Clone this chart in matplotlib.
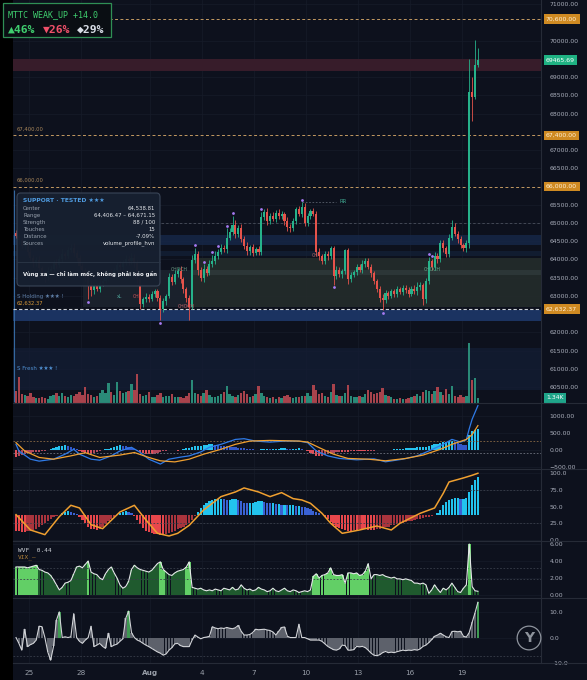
import numpy as np
import matplotlib.pyplot as plt
from matplotlib.patches import Rectangle, FancyBboxPatch
from matplotlib.transforms import blended_transform_factory

W, H = 587, 680
BG = '#0d111d'
GRID = '#171c29'
TXT = '#a9aebb'
GREEN = '#26b28a'
RED = '#e5534b'
ORANGE = '#f0a33a'

# ---- 4h candles, Jul 24 04:00 -> Aug 19 20:00 ----
first_open = 64720
closes = [
    64650, 64520, 64380, 64450, 64210, 64050, 63920, 63980, 63760, 63600,
    63520, 63680, 63750, 63900, 63850, 64020, 64150, 64100, 64260, 64300,
    64180, 64050, 63820, 63700, 63520, 63300, 63150, 63280, 63200, 63350,
    63420, 63500, 63620, 63580, 63700, 63850, 63780, 63900, 64000, 63950,
    64050, 63900, 63450, 62780, 62900, 62980, 62920, 63050, 63120, 62950,
    62650, 62850, 63000, 63520, 63380, 63600, 63680, 63450, 63180, 62950,
    62700, 63990, 64150, 63700, 63480, 63750, 63620, 63880, 63950, 64100,
    64200, 64320, 64280, 64600, 64750, 64950, 64700, 64850, 64560, 64380,
    64220, 64330, 64180, 64280, 64200, 65150, 65300, 65050, 65200, 65120,
    65280, 65180, 65250, 65050, 64900, 64850, 65050, 65380, 65250, 65450,
    65000, 65180, 65320, 65250, 64200, 64100, 63950, 64150, 64080, 64300,
    63550, 63720, 63600, 63680, 64250, 63450, 63580, 63650, 63780, 63720,
    63880, 63950, 63800, 63620, 63400, 63200, 62950, 62880, 63080, 63000,
    63120, 63050, 63180, 63100, 63220, 63150, 63060, 63200, 63120, 63230,
    63300, 62900, 63400, 63950, 63800, 64100, 64000, 64450, 64300, 64150,
    64600, 64900, 64700, 64550, 64400, 64300, 64450, 68600, 68450, 69330,
    69465.69,
]
wick_up = [
    80, 60, 90, 120, 70, 100, 60, 80, 110, 70,
    90, 120, 60, 80, 100, 70, 130, 60, 90, 110,
    150, 80, 60, 90, 70, 100, 120, 60, 80, 90,
    70, 100, 80, 120, 60, 90, 110, 70, 130, 80,
    120, 90, 70, 80, 60, 100, 70, 90, 60, 80,
    70, 90, 60, 120, 80, 100, 90, 130, 70, 60,
    80, 120, 170, 70, 90, 110, 80, 100, 170, 120,
    90, 110, 80, 250, 100, 250, 120, 90, 110, 80,
    100, 70, 90, 60, 80, 160, 90, 110, 80, 100,
    70, 90, 80, 60, 100, 80, 90, 60, 80, 120,
    100, 80, 60, 90, 70, 110, 60, 80, 90, 80,
    60, 90, 80, 70, 40, 60, 80, 70, 90, 100,
    110, 80, 90, 60, 70, 60, 80, 90, 70, 60,
    80, 70, 90, 60, 80, 70, 90, 60, 100, 150,
    80, 60, 90, 120, 70, 100, 80, 90, 80, 70,
    100, 180, 90, 70, 80, 60, 70, 900, 400, 690,
    330,
]
wick_dn = [
    70, 90, 60, 100, 80, 70, 120, 90, 60, 100,
    150, 80, 70, 60, 90, 70, 80, 100, 60, 70,
    80, 90, 70, 100, 120, 400, 150, 90, 80, 100,
    90, 70, 100, 80, 60, 90, 70, 80, 60, 100,
    80, 120, 100, 150, 90, 70, 80, 60, 90, 100,
    320, 80, 100, 70, 90, 60, 80, 100, 90, 120,
    370, 60, 100, 120, 80, 90, 70, 60, 80, 70,
    90, 60, 80, 100, 70, 80, 110, 90, 80, 100,
    90, 110, 80, 70, 80, 90, 60, 100, 80, 70,
    90, 60, 80, 100, 110, 90, 70, 80, 60, 80,
    70, 90, 80, 60, 100, 120, 80, 90, 100, 70,
    250, 90, 80, 100, 70, 120, 80, 70, 90, 60,
    80, 90, 70, 100, 80, 90, 120, 270, 80, 100,
    70, 90, 80, 60, 90, 70, 80, 60, 70, 90,
    80, 150, 90, 70, 100, 80, 90, 70, 100, 80,
    90, 80, 70, 100, 80, 70, 90, 150, 650, 60,
    50,
]
volume_k = [
    3.2, 7.0, 2.5, 2.2, 2.0, 2.7, 1.6, 1.3, 1.4, 1.6,
    1.4, 1.2, 1.9, 2.2, 2.6, 2.0, 2.7, 1.8, 1.6, 2.2,
    1.9, 2.4, 3.0, 2.1, 4.3, 2.5, 2.2, 1.6, 1.8, 2.7,
    3.5, 2.8, 5.4, 3.0, 2.2, 5.6, 3.2, 2.6, 2.9, 3.2,
    5.2, 3.5, 7.8, 2.5, 1.8, 2.2, 2.9, 1.7, 1.5, 2.1,
    2.7, 1.6, 2.0, 1.8, 2.4, 1.6, 1.7, 1.5, 1.4, 2.0,
    2.6, 6.2, 2.8, 2.3, 1.9, 2.6, 3.4, 2.2, 1.7, 1.5,
    2.0, 2.3, 3.0, 4.6, 2.4, 2.0, 1.7, 2.1, 2.8, 3.2,
    2.3, 1.6, 1.9, 2.5, 4.6, 2.8, 2.0, 1.6, 1.3, 1.5,
    1.2, 1.6, 1.4, 1.8, 2.2, 1.7, 1.4, 1.6, 1.5, 1.9,
    2.0, 2.6, 1.8, 4.8, 3.6, 2.3, 2.6, 2.0, 1.7, 3.0,
    5.1, 2.2, 1.8, 1.9, 2.8, 4.8, 2.0, 1.7, 1.6, 1.9,
    1.7, 2.4, 3.5, 2.9, 2.3, 2.6, 3.0, 4.0, 2.2, 1.8,
    1.6, 1.2, 1.0, 1.4, 1.2, 1.1, 1.3, 1.5, 1.9, 2.5,
    2.0, 3.0, 3.4, 3.2, 2.3, 3.1, 4.3, 2.9, 2.1, 3.7,
    2.3, 4.5, 1.9, 1.6, 2.2, 1.7, 2.0, 16.0, 6.2, 6.6,
    1.34,
]

# ---- MACD ----
macd_hist = [
    -200, -180, -150, -120, -100, -80, -70, -60, -50, -40,
    -30, -10, 20, 50, 80, 110, 130, 135, 120, 100,
    60, 20, -20, -60, -90, -110, -120, -100, -70, -40,
    10, 30, 40, 60, 90, 120, 135, 130, 110, 80,
    50, 20, -20, -60, -90, -110, -120, -124, -110, -90,
    -70, -40, -20, -10, 10, -10, -20, 10, 30, 50,
    70, 90, 110, 120, 130, 140, 150, 160, 165, 150,
    140, 130, 120, 110, 100, 90, 80, 70, 60, 50,
    40, 30, 20, 10, 10, 20, 30, 30, 20, 20,
    30, 40, 50, 50, 40, 30, 30, 40, 50, 40,
    10, -40, -90, -130, -170, -180, -170, -150, -120, -100,
    -80, -70, -60, -60, -50, -50, -40, -40, -30, -30,
    -30, -40, -40, -30, -20, -10, -10, -10, 0, 10,
    10, 20, 20, 30, 40, 50, 50, 60, 70, 80,
    80, 90, 100, 120, 140, 160, 180, 200, 220, 240,
    250, 260, 240, 200, 170, 150, 140, 450, 550, 590,
    600,
]
macd_idx = [0, 1, 5, 8, 13, 17, 20, 22, 26, 29, 33, 36, 40, 43, 46, 50, 53, 57,
            60, 64, 67, 71, 76, 79, 83, 88, 93, 98, 101, 104, 108, 112, 118, 124,
            128, 134, 139, 143, 148, 151, 154, 156, 157, 158, 159, 160]
macd_line = [165, -29, -270, -327, -270, -124, 20, -124, -270, -300, -173, -29, 78,
             -70, -270, -413, -270, -210, -173, -58, 78, 165, 309, 330, 260, 230,
             260, 260, 214, -29, -173, -249, -289, -260, -347, -270, -173, -29,
             165, 309, 231, 300, 620, 900, 1100, 1300]
signal_idx = [0, 3, 8, 13, 19, 24, 29, 36, 41, 46, 50, 55, 60, 65, 71, 76, 81, 88,
              98, 101, 105, 110, 115, 122, 128, 135, 141, 147, 151, 156, 158, 160]
signal_line = [214, -29, -220, -270, -173, -80, -220, -150, -75, -220, -318, -350,
               -270, -124, 20, 165, 260, 280, 260, 231, 69, -124, -249, -270, -318,
               -249, -150, 20, 165, 309, 450, 714]

# ---- momentum oscillator (0-100) ----
mom_hist = [
    14, 13, 12, 12, 13, 14, 15, 17, 19, 22,
    25, 28, 31, 34, 36, 38, 40, 42, 43, 42,
    41, 39, 35, 30, 25, 20, 17, 16, 15, 17,
    20, 24, 28, 32, 35, 38, 40, 42, 43, 42,
    40, 36, 30, 24, 18, 14, 12, 10, 9, 9,
    8, 8, 9, 10, 12, 14, 16, 18, 20, 22,
    25, 30, 36, 42, 48, 52, 55, 58, 60, 61,
    62, 62, 61, 60, 60, 61, 62, 60, 58, 56,
    55, 55, 56, 57, 58, 58, 57, 56, 55, 55,
    54, 54, 53, 53, 52, 52, 52, 51, 51, 50,
    49, 48, 46, 44, 42, 40, 38, 35, 31, 27,
    23, 20, 18, 16, 15, 14, 14, 15, 15, 16,
    16, 16, 15, 15, 15, 16, 17, 18, 19, 20,
    22, 23, 24, 25, 26, 27, 28, 29, 30, 31,
    32, 33, 34, 35, 36, 37, 40, 45, 52, 57,
    60, 62, 63, 63, 62, 62, 63, 72, 82, 90,
    95,
]
mom_base = 37.5
mom_idx = [0, 5, 10, 15, 19, 22, 26, 30, 36, 41, 45, 49, 53, 56, 60, 65, 71, 76, 79,
           84, 88, 92, 96, 99, 102, 106, 109, 113, 119, 125, 130, 133, 140, 145,
           148, 150, 155, 158, 160]
mom_line = [38, 15, 8, 35, 52, 48, 23, 17, 42, 52, 30, 10, 6, 10, 22, 45, 65, 72, 78,
            72, 65, 71, 62, 60, 55, 40, 25, 10, 15, 21, 15, 25, 40, 48, 70, 87, 93,
            97, 100]

# ---- Williams VIX Fix ----
wvf = [
    3.3, 3.3, 3.3, 3.3, 3.2, 3.3, 3.4, 3.5, 3.0, 2.9,
    2.7, 2.6, 2.3, 1.8, 1.2, 0.6, 0.9, 1.4, 1.5, 1.7,
    2.5, 3.3, 3.4, 3.2, 3.6, 4.0, 2.7, 2.5, 2.4, 2.0,
    1.8, 2.5, 3.0, 3.3, 2.6, 2.0, 1.2, 0.8, 1.0, 1.6,
    3.0, 3.5, 3.2, 3.0, 2.9, 2.8, 2.7, 2.9, 3.3, 3.7,
    3.9, 3.0, 2.7, 2.4, 2.3, 2.6, 2.8, 2.9, 3.0, 3.3,
    3.9, 0.9, 0.8, 0.7, 0.8, 0.6, 0.5, 0.6, 0.5, 0.7,
    0.6, 0.5, 0.8, 0.7, 0.6, 0.9, 0.6, 0.7, 1.2, 0.8,
    0.6, 0.7, 0.5, 0.6, 0.9, 0.7, 0.6, 0.4, 0.5, 0.8,
    0.5, 0.4, 0.6, 0.8, 0.5, 0.4, 0.6, 0.5, 0.3, 0.4,
    0.5, 0.4, 0.6, 2.2, 2.5, 2.0, 2.3, 2.4, 2.6, 3.2,
    2.4, 2.3, 2.3, 2.4, 1.4, 2.6, 2.6, 2.5, 2.6, 2.3,
    2.4, 2.8, 3.7, 1.9, 2.4, 2.4, 2.3, 2.4, 2.2, 2.1,
    2.0, 2.1, 1.9, 1.9, 1.8, 1.9, 1.8, 1.7, 1.4, 1.4,
    1.3, 1.4, 1.2, 0.2, 0.6, 1.2, 0.7, 0.3, 0.8, 0.6,
    0.9, 1.4, 0.9, 0.4, 0.3, 0.8, 1.2, 6.0, 1.0, 0.5,
    0.44,
]
wvf_hot = [(0, 7), (25, 25), (50, 51), (59, 60), (103, 122), (157, 157)]

# ---- bottom oscillator ----
osc = [
    0, -2.3, -5, 3.3, -3.6, -2.8, -2.3, -1, 4.5, 4.3,
    0, -5.7, -9, -3.5, 6.9, 10.2, 0, 0.3, 0, 0.3,
    9.5, 0, -1.5, -2.3, -1, 0, 4.5, -3.6, -3, -2.3,
    -3.5, -4.3, 1.7, -3.6, -3, -2.6, -1.5, -0.5, 7.6, 10.5,
    2, 0, -1, -1.5, -2.3, -3, -3.6, -4.3, -5, -5.7,
    -6.2, -7, -6.5, -5, -4, -2.5, -2.3, -3.2, -3.6, -3.6,
    -3.6, -1, 1, 0.2, -0.5, 0, 0.2, 0.5, 4.3, 3.8,
    3.5, 3.8, 3.6, 4, 3.7, 3.5, 3.9, 4.8, 2.5, 1,
    1, 1.2, 2, 3.3, 3.1, 3.2, 3.3, 3, 2.8, 2.2,
    1, 2.5, 4, 4.2, 0.5, 0, 0, 0, 5.3, 0,
    0, -0.5, -1, -1, -1, -1, -1.5, -2.5, -3.5, -4.2,
    -4.8, -5, -4.5, -3, -3.2, -5, -5, -4.8, -3.5, -3.7,
    -3.5, -4, -5, -6.2, -7, -7.2, -6.8, -6, -5.5, -6,
    -5.8, -6, -5.6, -5.3, -5, -5.2, -5, -5.1, -4.8, -5,
    -4.5, -3.5, -3, -2, -0.8, 0.5, 1, 1.7, 1, 0.3,
    0, 2.4, 2.5, 2.3, 2.5, 0.5, 0.2, 2, 6, 9.8,
    14,
]

swing_high_idx = [62, 65, 68, 70, 73, 75, 85, 99, 143, 144]
swing_low_idx = [25, 50, 110, 127]

day_ticks = [1, 4, 8, 11, 14, 17, 20, 23, 26]
day_labels = ['25', '28', 'Aug', '4', '7', '10', '13', '16', '19']

for arr in (closes, wick_up, wick_dn, volume_k, macd_hist, mom_hist, wvf, osc):
    assert len(arr) == len(closes), len(arr)

N = len(closes)
t = 0.25 + np.arange(N) / 6
c = np.array(closes, float)
o = np.array([first_open] + closes[:-1], float)
hi = np.maximum(o, c) + np.array(wick_up)
lo = np.minimum(o, c) - np.array(wick_dn)
up = c >= o


def fx(x):
    return x / W


def fy(y):
    return 1 - y / H


fig = plt.figure(figsize=(W / 100, H / 100), dpi=100, facecolor=BG)


def panel(top, bottom):
    a = fig.add_axes([fx(13), fy(bottom), 528 / W, (bottom - top) / H])
    a.set_facecolor(BG)
    for s in a.spines.values():
        s.set_visible(False)
    a.set_xlim(0.076, 30.56)
    a.yaxis.tick_right()
    a.tick_params(axis='y', labelsize=4.4, labelcolor=TXT, length=0, pad=6)
    a.tick_params(axis='x', length=0, labelbottom=False)
    a.set_xticks(day_ticks)
    a.grid(True, color=GRID, lw=0.5)
    a.set_axisbelow(True)
    return a


def tag(a, y, s, fc, tc):
    a.text(1 + 5 / 528, y, s, transform=blended_transform_factory(a.transAxes, a.transData),
           ha='left', va='center', fontsize=4.4, color=tc, clip_on=False, zorder=10,
           bbox=dict(boxstyle='square,pad=0.4', fc=fc, ec='none'))


def hist_colors(vals, base, pos_up, pos_dn, neg_dn, neg_up):
    cols, prev = [], vals[0]
    for v in vals:
        if v >= base:
            cols.append(pos_up if v >= prev else pos_dn)
        else:
            cols.append(neg_dn if v <= prev else neg_up)
        prev = v
    return cols


# ================= main price panel =================
ax = panel(0, 403)
ax.set_ylim(60060, 71117)

# zones
ax.axhspan(69170, 69500, color='#3a1d2b', alpha=0.95, lw=0)
ax.axhspan(64400, 64670, color='#16284a', alpha=0.8, lw=0)
ax.axhspan(64080, 64220, color='#142239', alpha=0.7, lw=0)
ax.axhspan(62300, 62600, color='#1c3665', alpha=0.95, lw=0)
ax.axhspan(60420, 61570, color='#131d33', alpha=0.8, lw=0)
ax.add_patch(Rectangle((t[61], 62700), 30.56 - t[61], 1350, fc='#242c2b', ec='none', alpha=0.9))
ax.add_patch(Rectangle((t[61], 63560), 30.56 - t[61], 140, fc='#2e3839', ec='none', alpha=0.9))
ax.add_patch(Rectangle((4.1, 62700), t[61] - 4.1, 1000, fc='#1c232e', ec='none', alpha=0.9))
ax.vlines(0.16, 60100, 65900, color='#34689e', lw=0.8)

# levels
for lvl in (70600, 67400, 66000):
    ax.axhline(lvl, color='#c39a62', lw=0.7, ls=(0, (3, 2.5)))
ax.axhline(62632.37, color='#cfd3da', lw=0.8, ls=(0, (3, 2)))
ax.hlines(65010, 8.6, 30.56, color='#4a505c', lw=0.6, ls=(0, (3, 2.5)))
ax.hlines(65570, t[99], t[111], color='#5a606c', lw=0.6, ls=(0, (2, 2)))
ax.text(t[112], 65600, 'RR', fontsize=3.8, color='#3fa58f', va='center')

# candles
cols = np.where(up, GREEN, RED)
ax.vlines(t, lo, hi, colors=cols, lw=0.6, zorder=3)
ax.bar(t, np.maximum(np.abs(c - o), 12), bottom=np.minimum(o, c), width=0.12,
       color=cols, zorder=4, lw=0)
ax.scatter(t[swing_high_idx], hi[swing_high_idx] + 70, s=4, color='#a77bf3', zorder=5, lw=0)
ax.scatter(t[swing_low_idx], lo[swing_low_idx] - 70, s=4, color='#a77bf3', zorder=5, lw=0)

# small structure labels
for x, y, s, col in [(9.2, 63730, 'CHOCH', '#6f9a86'), (23.8, 63730, 'CHOCH', '#5fb08f'),
                     (7.0, 62980, 'CH', '#d0555a'), (9.6, 62720, 'CHOCH', '#c4656a'),
                     (17.3, 64120, 'CH', '#b86a6a'), (6.1, 62990, 'xL', '#4fa59a')]:
    ax.text(x, y, s, fontsize=3.3, color=col, va='center', zorder=6)

# left level labels
ax.text(0.31, 67560, '67,400.00', fontsize=3.8, color='#a8865a', va='center')
ax.text(0.31, 66160, '66,000.00', fontsize=3.8, color='#a8865a', va='center')
ax.text(0.31, 63000, 'S Holding \u2605\u2605\u2605 !', fontsize=4, color='#5f7fa8', va='center', zorder=6)
ax.text(0.31, 62790, '62,632.37', fontsize=3.8, color='#d89a3a', va='center', zorder=6)
ax.text(0.31, 61000, 'S Fresh \u2605\u2605\u2605 !', fontsize=4, color='#4f8fd0', va='center')

# volume overlay
vax = ax.twinx()
vax.set_ylim(0, 108)
vax.axis('off')
vax.bar(t, volume_k, width=0.135, color=np.where(up, '#2a8a78', '#a8434c'), lw=0)

# twinx moves the price labels to the left: put them back on the right
ax.yaxis.tick_right()
price_ticks = [60500, 61000, 61500, 62000, 63000, 63500, 64000, 64500, 65000, 65500,
               66500, 67000, 68000, 68500, 69000, 70000, 71000]
ax.set_yticks(price_ticks, [f'{v:.2f}' for v in price_ticks])
ax.tick_params(axis='y', labelsize=4.4, labelcolor=TXT, length=0, pad=6,
               left=False, labelleft=False, right=True, labelright=True)

tag(ax, 70600, '70,600.00', '#cf8a22', '#fff1d8')
tag(ax, 69465.69, '69465.69', '#1fb283', '#ffffff')
tag(ax, 67400, '67,400.00', '#cf8a22', '#fff1d8')
tag(ax, 66000, '66,000.00', '#cf8a22', '#fff1d8')
tag(ax, 62632.37, '62,632.37', '#cf8a22', '#fff1d8')
tag(vax, volume_k[-1], '1.34K', '#1fa58a', '#ffffff')

# ================= MACD =================
ax2 = panel(403, 469)
ax2.set_ylim(-558, 1376)
ax2.set_yticks([1000, 500, 0, -500], ['1000.00', '500.00', '0.00', '\u2212500.00'])
ax2.axhline(260, color='#8a6a45', lw=0.6, ls=(0, (2, 2)))
ax2.axhline(-100, color='#6f7480', lw=0.6, ls=(0, (2, 2)))
ax2.bar(t, macd_hist, width=0.13, lw=0,
        color=hist_colors(macd_hist, 0, '#27c2ee', '#3358c9', '#e0505a', '#b0485c'))
ax2.plot(0.25 + np.array(macd_idx) / 6, macd_line, color='#2f7be8', lw=0.9)
ax2.plot(0.25 + np.array(signal_idx) / 6, signal_line, color='#f0a030', lw=0.9)

# ================= momentum =================
ax3 = panel(469, 541)
ax3.set_ylim(-1.5, 106.4)
ax3.set_yticks([100, 75, 50, 25, 0], ['100.0', '75.0', '50.0', '25.0', '0.0'])
ax3.axhline(75, color='#3a3f4b', lw=0.6, ls=(0, (2, 2)))
ax3.axhline(25, color='#3a3f4b', lw=0.6, ls=(0, (2, 2)))
mh = np.array(mom_hist, float)
ax3.bar(t, mh - mom_base, bottom=mom_base, width=0.13, lw=0,
        color=hist_colors(mom_hist, mom_base, '#22c3ee', '#3a62d4', '#e8474c', '#a9343d'))
ax3.plot(0.25 + np.array(mom_idx) / 6, mom_line, color='#f0a030', lw=1.1)

# ================= WVF =================
ax4 = panel(541, 598)
ax4.set_ylim(-0.35, 6.35)
ax4.set_yticks([6, 4, 2, 0], ['6.00', '4.00', '2.00', '0.00'])
ax4.axhline(3.2, color='#3a3f4b', lw=0.6, ls=(0, (2, 2)))
ax4.axhline(1.9, color='#3a3f4b', lw=0.6, ls=(0, (2, 2)))
hot = np.zeros(N, bool)
for a_, b_ in wvf_hot:
    hot[a_:b_ + 1] = True
ax4.bar(t, wvf, width=0.15, lw=0, color=np.where(hot, '#62cf66', '#1f5a2e'))
ax4.plot(t, wvf, color='#e6e8ea', lw=0.8)
fig.text(fx(18), fy(550), 'WVF  0.44', fontsize=4.4, color='#d0d4da', family='DejaVu Sans Mono', va='center')
fig.text(fx(18), fy(557), 'VIX_\u2013', fontsize=4.4, color='#b5843a', family='DejaVu Sans Mono', va='center')

# ================= bottom oscillator =================
ax5 = panel(598, 663)
ax5.set_ylim(-10.1, 15.7)
ax5.set_yticks([10, 0, -10], ['10.0', '0.0', '\u221210.0'])
ax5.axhline(-7.4, color='#3a3f4b', lw=0.6, ls=(0, (2, 2)))
ov = np.array(osc, float)
ax5.bar(t, ov, width=0.14, lw=0, color=np.where(ov >= 10, '#3f9a52', '#5d616b'))
ax5.plot(t, ov, color='#d2d4d8', lw=0.8)
ax5.tick_params(axis='x', labelbottom=True, labelsize=5.2, labelcolor='#9aa0aa', pad=5)
ax5.set_xticklabels(day_labels)
ax5.get_xticklabels()[2].set_fontweight('bold')

# ---- frame lines ----
for yy in (403, 469, 541, 598, 663):
    fig.add_artist(plt.Line2D([fx(13), 1], [fy(yy), fy(yy)], color='#262b37', lw=0.8))
fig.add_artist(plt.Line2D([fx(541), fx(541)], [fy(0), fy(663)], color='#262b37', lw=0.8))
fig.add_artist(Rectangle((0, 0), fx(13), 1, transform=fig.transFigure, fc='#000000', ec='none'))

# logo
fig.text(fx(529), fy(638), 'Y', ha='center', va='center', fontsize=10, color='#8d939c',
         fontweight='bold', bbox=dict(boxstyle='circle,pad=0.35', fc='none', ec='#8d939c', lw=0.9))

# ---- header box ----
fig.add_artist(Rectangle((fx(3), fy(37)), 108 / W, 34 / H, transform=fig.transFigure,
                         fc='#0a0e13', ec='#2f8f55', lw=0.9))
fig.text(fx(8), fy(15), 'MTTC WEAK_UP +14.0', fontsize=6, color='#3fcf6f',
         family='DejaVu Sans Mono', va='center')
fig.text(fx(8), fy(29.5), '\u25b246%', fontsize=8.2, color='#3fcf6f', fontweight='bold',
         family='DejaVu Sans Mono', va='center')
fig.text(fx(43), fy(29.5), '\u25bc26%', fontsize=8.2, color='#f0506a', fontweight='bold',
         family='DejaVu Sans Mono', va='center')
fig.text(fx(77), fy(29.5), '\u25c629%', fontsize=8.2, color='#d8dde6', fontweight='bold',
         family='DejaVu Sans Mono', va='center')

# ---- zone tooltip ----
fig.add_artist(FancyBboxPatch((fx(17), fy(286)), 143 / W, 93 / H, transform=fig.transFigure,
                              boxstyle='round,pad=0,rounding_size=0.006',
                              fc='#172030', ec='#3a4658', lw=0.8, alpha=0.98))
fig.add_artist(plt.Line2D([fx(17), fx(160)], [fy(262), fy(262)], color='#2c3748', lw=0.6))
fig.text(fx(23), fy(200), 'SUPPORT \u00b7 TESTED \u2605\u2605\u2605', fontsize=4.3,
         color='#4f9be0', fontweight='bold', va='center')
rows = [('Center', '64,538.81'), ('Range', '64,406.47 \u2013 64,671.15'),
        ('Strength', '88 / 100'), ('Touches', '15'), ('Distance', '-7.09%'),
        ('Sources', 'volume_profile_hvn')]
for k, (lab, val) in enumerate(rows):
    yy = 208.3 + k * 7
    fig.text(fx(23), fy(yy), lab, fontsize=3.9, color='#97a0ad', va='center')
    fig.text(fx(155), fy(yy), val, fontsize=3.9, color='#e4e7ec', va='center', ha='right')
fig.text(fx(23), fy(274), 'V\u00f9ng xa \u2014 ch\u1ec9 l\u00e0m m\u1ed1c, kh\u00f4ng ph\u1ea3i k\u00e9o g\u1ea7n',
         fontsize=3.9, color='#eef0f3', fontweight='bold', va='center')

fig.savefig('out.png', dpi=100, facecolor=BG)
